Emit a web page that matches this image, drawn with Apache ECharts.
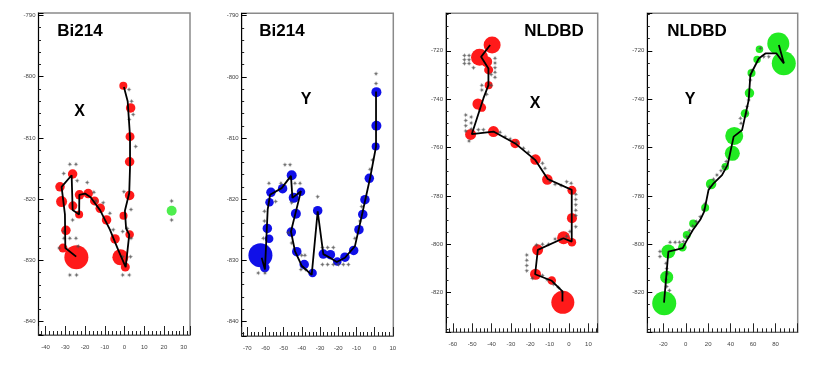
<!DOCTYPE html>
<html lang="en">
<head>
  <meta charset="UTF-8">
  <title>Bi214 / NLDBD tracks</title>
  <script src="https://cdn.jsdelivr.net/npm/echarts@6/dist/echarts.min.js"></script>
  <style>
    html, body { margin: 0; padding: 0; background: #fff; }
    #chart { width: 830px; height: 369px; }
  </style>
</head>
<body>
  <div id="chart"></div>
  <script>
    // [x, y, amplitude] of each hit; amplitude read as marker diameter
    const bi214XHits = [
      [-0.6, -801.5, 8], [3.1, -805.1, 9.5], [2.8, -809.8, 9], [2.6, -813.9, 9.5],
      [2.6, -819.4, 9.5], [-0.5, -822.7, 8], [2.6, -825.8, 8.5], [-2.1, -829.5, 16],
      [0.4, -831.1, 9], [-4.8, -826.5, 9.5], [-9.1, -823.4, 9.5], [-12.3, -821.5, 9.5],
      [-15.2, -820.3, 9], [-18.4, -819.1, 9.5], [-22.8, -819.3, 9.5], [-23, -822.5, 8],
      [-26.2, -821.1, 9], [-26.3, -815.9, 9.5], [-32.7, -818.0, 9.5], [-31.9, -820.4, 11],
      [-29.7, -825.1, 9.5], [-31.2, -828, 9], [-24.4, -829.5, 24]
    ];
    const bi214XTrack = [
      [-0.3, -801.7], [1.6, -804.0], [2.8, -809.8], [2.8, -814.7], [2.4, -819.0],
      [0.2, -821.9], [0.8, -824.8], [2.4, -825.8], [0.6, -831.1], [-3.2, -828.3],
      [-7.4, -825.0], [-12.4, -821.8], [-17.2, -819.7], [-20.0, -819.1], [-22.9, -819.3],
      [-23.0, -822.5], [-26.3, -821.8], [-26.8, -816.1], [-31.9, -818.0], [-30.2, -822.5],
      [-30.0, -828.0], [-24.5, -829.4]
    ];
    const bi214XStars = [
      [2.3, -802.1], [3.6, -804.0], [2.4, -807.0], [4.4, -806.2], [5.7, -811.4],
      [-0.3, -818.8], [3.3, -821.7], [1.4, -824.8], [-0.9, -825.3], [3.3, -826.4],
      [-0.9, -829.4], [3.1, -829.4], [-0.9, -832.4], [2.4, -832.4],
      [-27.7, -814.3], [-24.6, -814.3], [-30.8, -815.8], [-24.0, -817.0], [-18.9, -817.3],
      [-15.5, -818.9], [-10.8, -820.6], [-7.4, -822.3], [-5.7, -825.0], [-14.5, -820.3],
      [-26.3, -823.4], [-30.7, -825.3], [-30.7, -826.4], [-27.7, -826.4], [-24.6, -826.4],
      [-33.1, -828.0], [-23.5, -827.7], [-27.7, -832.4], [-24.3, -832.4]
    ];
    const bi214XOther = [[23.9, -821.9, 10]];
    const bi214XOtherStars = [[23.9, -820.3], [23.9, -823.4]];

    const bi214YHits = [
      [1.0, -802.5, 10], [1.0, -808.0, 10], [0.6, -811.4, 8], [-2.9, -816.6, 9.5],
      [-5.3, -820.1, 9.5], [-6.5, -822.5, 9.5], [-8.6, -825.0, 9.5], [-11.5, -828.4, 9.5],
      [-16.3, -829.5, 9.5], [-20.5, -830.2, 8.5], [-24.3, -829.1, 9.5], [-28.2, -829.0, 9.5],
      [-31.3, -821.9, 9.5], [-34.1, -832.1, 8.5], [-38.7, -830.7, 9.5], [-42.8, -828.6, 9.5],
      [-45.8, -825.4, 9.5], [-43.3, -822.4, 10], [-44.5, -819.8, 10], [-40.5, -818.8, 8.5],
      [-45.6, -816.1, 10], [-50.6, -818.3, 9.5], [-57, -818.9, 9.5], [-57.8, -820.5, 8.5],
      [-59.0, -824.8, 9.5], [-58.0, -826.5, 8.5], [-62.8, -829.2, 24], [-60.4, -831.2, 9.5]
    ];
    const bi214YTrack = [
      [0.8, -802.4], [0.8, -811.4], [-2.5, -816.6], [-7.1, -822.8], [-10.8, -827.7],
      [-16.3, -829.6], [-20.8, -830.3], [-24.5, -829.6], [-28.2, -829.0], [-31.3, -822.0],
      [-34.6, -832.4], [-40.1, -830.9], [-43.8, -828.5], [-46.0, -825.3], [-40.5, -818.7],
      [-45.2, -819.8], [-46.0, -816.2], [-51.1, -818.2], [-57.5, -819.3], [-58.8, -821.7],
      [-60.3, -831.5], [-62.1, -829.6]
    ];
    const bi214YStars = [
      [0.8, -799.5], [0.8, -801.1], [-1.2, -813.6], [-2.5, -815.1], [-4.9, -819.8],
      [-7.1, -821.2], [-8.0, -823.6], [-10.8, -826.4], [-14.4, -830.7], [-17.2, -830.7],
      [-19.9, -830.7], [-22.7, -830.7], [-25.8, -830.7], [-28.7, -830.7], [-22.7, -827.9],
      [-25.8, -827.9], [-28.7, -827.9], [-31.3, -819.6], [-37.9, -831.5], [-40.5, -831.5],
      [-40.1, -829.2], [-38.3, -829.2], [-49.3, -814.4], [-46.5, -814.4], [-51.5, -817.4],
      [-43.8, -817.4], [-41.0, -817.4], [-58.1, -817.4], [-54.4, -820.4], [-60.6, -822.0],
      [-60.6, -823.6], [-61.2, -826.4], [-64.0, -832.1], [-60.3, -832.1], [-47.4, -825.5],
      [-45.6, -820.6], [-45.6, -827.2]
    ];

    const nldbdXHits = [
      [-39.7, -717.6, 17], [-46.2, -722.7, 17], [-42.5, -724.5, 11], [-41.5, -727.9, 9],
      [-41.5, -734.2, 8], [-47, -742, 11], [-45, -743.5, 8.5], [-50.8, -754.6, 11],
      [-39, -753.4, 11], [-27.8, -758.3, 9.5], [-17.3, -765, 10.5], [-11.2, -773.2, 10.5],
      [1.5, -777.7, 9], [1.5, -789.2, 10], [-2.8, -797.3, 13], [1.5, -799.2, 8.5],
      [-16.2, -802.3, 11], [-17.3, -812.4, 11], [-8.9, -815, 8.5], [-3.2, -824, 23]
    ];
    const nldbdXTrack = [
      [-40.7, -717.6], [-45.4, -722.5], [-41.6, -727.3], [-41.6, -734.2], [-44.2, -739.7],
      [-50.2, -754.5], [-39.0, -753.4], [-27.8, -758.3], [-17.5, -765.1], [-11.0, -773.0],
      [1.4, -777.5], [1.4, -798.9], [-2.9, -797.5], [-16.1, -802.3], [-17.5, -812.4],
      [-8.9, -815.1], [-3.4, -819.5], [-3.4, -823.7]
    ];
    const nldbdXStars = [
      [-54.0, -722.0], [-54.0, -723.7], [-54.0, -725.3], [-51.6, -722.0], [-51.6, -723.7],
      [-51.6, -725.3], [-49.3, -727.0], [-38.2, -723.1], [-38.2, -725.1], [-38.2, -727.0],
      [-38.2, -728.9], [-38.2, -730.9], [-40.2, -729.8], [-45.0, -734.2], [-45.0, -736.2],
      [-42.5, -738.0], [-40.2, -734.2], [-53.3, -746.5], [-53.3, -748.8], [-53.3, -751.0],
      [-53.3, -753.2], [-50.5, -747.4], [-50.5, -749.9], [-50.5, -752.3], [-51.6, -757.3],
      [-46.8, -752.7], [-44.2, -752.7], [-35.6, -753.7], [-33.0, -755.5], [-30.4, -756.5],
      [-27.0, -757.8], [-23.5, -760.3], [-21.0, -762.0], [-18.9, -764.2], [-13.7, -766.5],
      [-12.4, -768.6], [-9.8, -773.8], [-7.2, -775.2], [-4.1, -775.7], [-1.2, -774.1],
      [1.1, -774.8], [3.5, -779.3], [3.5, -781.5], [3.5, -783.7], [3.5, -785.9],
      [3.5, -788.1], [3.5, -792.8], [0.5, -794.7], [-7.2, -797.8], [-4.1, -797.8],
      [-1.2, -796.7], [-10.6, -800.0], [-13.7, -800.0], [-16.8, -800.3], [-21.8, -804.4],
      [-21.8, -806.6], [-21.8, -808.8], [-21.8, -811.0], [-18.9, -814.0], [-13.7, -812.9],
      [-11.3, -814.7], [-7.9, -816.5], [-5.5, -817.9], [-3.4, -819.8]
    ];

    const nldbdYHits = [
      [82.5, -717, 22], [87.4, -725.2, 24], [65.7, -719.4, 7.5], [63.6, -723.6, 7.5],
      [58.6, -729.2, 8], [56.8, -737.5, 9.5], [52.8, -745.9, 8.5], [43.2, -755.2, 18],
      [41.5, -762.4, 15], [35.2, -767.9, 7.5], [22.6, -775.1, 10.5], [17.3, -784.9, 8],
      [6.6, -791.4, 8], [0.9, -796.2, 8], [-3.0, -801.2, 8.5], [-15.5, -803.0, 14],
      [-17.0, -813.6, 13], [-19.2, -824.4, 24]
    ];
    const nldbdYTrack = [
      [-19.4, -824.1], [-15.5, -803.0], [-2.7, -801.6], [0.3, -798.9], [6.3, -794.1],
      [12.9, -789.9], [16.4, -786.5], [20.3, -777.5], [24.8, -774.8], [32.3, -771.4],
      [37.3, -767.2], [42.7, -755.5], [50.2, -752.8], [56.1, -740.4], [57.6, -730.0],
      [65.1, -723.2], [71.0, -721.1], [80.9, -721.1], [87.5, -725.2], [83.0, -717.6]
    ];
    const nldbdYStars = [
      [66.6, -719.0], [69.6, -722.5], [74.0, -722.5], [59.1, -728.0], [57.6, -730.0],
      [57.6, -732.1], [56.1, -740.4], [54.6, -743.1], [54.0, -745.9], [48.7, -747.9],
      [49.3, -750.0], [36.1, -765.8], [33.7, -767.9], [31.4, -769.6], [27.8, -771.4],
      [24.8, -773.1], [21.2, -776.2], [17.3, -783.1], [15.8, -785.8], [12.9, -788.6],
      [9.3, -790.6], [6.3, -792.4], [3.3, -794.3], [0.9, -796.8], [-2.1, -798.9],
      [-5.6, -799.2], [-9.5, -799.2], [-14.0, -799.2], [-23.0, -803.0], [-23.0, -805.1],
      [-17.6, -807.8], [-17.0, -810.0], [-16.4, -812.2], [-17.6, -814.7], [-17.0, -817.5],
      [-14.6, -819.1]
    ];

    // layout of the four pads
    const pads = [
      { grid: { left: 38.5, top: 13, width: 151.5, height: 322 },
        x: [-43.6, 33.2, 8, 10, 5], y: [-842.2, -789.6, 5, 10, 5],
        title: ['Bi214', 80, 31], label: ['X', 79.5, 112],
        hits: bi214XHits, track: bi214XTrack, stars: bi214XStars, color: '#ff1a1a' },
      { grid: { left: 241.7, top: 13.3, width: 151.6, height: 322.7 },
        x: [-73.1, 10.3, 8, 10, 5], y: [-842.4, -789.6, 5, 10, 5],
        title: ['Bi214', 282, 31], label: ['Y', 306, 100],
        hits: bi214YHits, track: bi214YTrack, stars: bi214YStars, color: '#1010e8' },
      { grid: { left: 446, top: 13.3, width: 151.7, height: 319 },
        x: [-63.5, 14.8, 8, 10, 5], y: [-836.4, -704.5, 7, 20, 4],
        title: ['NLDBD', 554, 31], label: ['X', 535, 104],
        hits: nldbdXHits, track: nldbdXTrack, stars: nldbdXStars, color: '#ff1a1a' },
      { grid: { left: 647.3, top: 13.3, width: 150.4, height: 319 },
        x: [-34.3, 99.8, 7, 20, 5], y: [-836.4, -704.5, 7, 20, 4],
        title: ['NLDBD', 697, 31], label: ['Y', 690, 100],
        hits: nldbdYHits, track: nldbdYTrack, stars: nldbdYStars, color: '#22ea22' }
    ];

    const starSymbol = 'path://M0,-10L2,-3L7,-7L3,-2L10,0L3,2L7,7L2,3L0,10L-2,3L-7,7L-3,2L-10,0L-3,-2L-7,-7L-2,-3Z';
    const labelFont = { fontSize: 6, color: '#444', fontFamily: 'Liberation Sans' };

    function majorOnly(step) {
      return v => (Math.abs(v / step - Math.round(v / step)) < 1e-6 ? String(Math.round(v)) : '');
    }

    const grid = [], xAxis = [], yAxis = [], series = [], graphic = [];
    pads.forEach((p, i) => {
      grid.push(Object.assign({ show: true, borderColor: '#8a8a8a', borderWidth: 1.5, backgroundColor: 'transparent' }, p.grid));
      xAxis.push({
        gridIndex: i, type: 'value', min: p.x[0], max: p.x[1], splitNumber: p.x[2],
        axisLine: { onZero: false, lineStyle: { color: '#666', width: 1 } },
        axisTick: { inside: true, length: 9, lineStyle: { color: '#222', width: 1 } },
        minorTick: { show: true, splitNumber: p.x[4], length: 4, lineStyle: { color: '#222', width: 1 } },
        axisLabel: Object.assign({ margin: 9, formatter: majorOnly(p.x[3]) }, labelFont),
        splitLine: { show: false }
      });
      yAxis.push({
        gridIndex: i, type: 'value', min: p.y[0], max: p.y[1], splitNumber: p.y[2],
        axisLine: { onZero: false, lineStyle: { color: '#000', width: 1 } },
        axisTick: { inside: true, length: 5, lineStyle: { color: '#000', width: 1 } },
        minorTick: { show: true, splitNumber: p.y[4], length: 2.5, lineStyle: { color: '#222', width: 1 } },
        axisLabel: Object.assign({ margin: 3, formatter: majorOnly(p.y[3]) }, labelFont),
        splitLine: { show: false }
      });
      series.push({
        type: 'scatter', xAxisIndex: i, yAxisIndex: i, data: p.hits,
        symbolSize: v => v[2], itemStyle: { color: p.color, opacity: 1 }, z: 2
      });
      series.push({
        type: 'scatter', xAxisIndex: i, yAxisIndex: i, data: p.stars,
        symbol: starSymbol, symbolSize: 5, itemStyle: { color: '#4a4a4a' }, z: 3
      });
      series.push({
        type: 'line', xAxisIndex: i, yAxisIndex: i, data: p.track,
        showSymbol: false, symbol: 'none', lineStyle: { color: '#000', width: 1.8 }, z: 4
      });
      graphic.push({ type: 'text', x: p.title[1], y: p.title[2],
        style: { text: p.title[0], font: 'bold 17px "Liberation Sans"', fill: '#000', align: 'center', verticalAlign: 'middle' } });
      graphic.push({ type: 'text', x: p.label[1], y: p.label[2],
        style: { text: p.label[0], font: 'bold 16px "Liberation Sans"', fill: '#000', align: 'center', verticalAlign: 'middle' } });
    });

    // the lone green hit beside the Bi214 X track
    series.push({
      type: 'scatter', xAxisIndex: 0, yAxisIndex: 0, data: bi214XOther,
      symbolSize: v => v[2], itemStyle: { color: '#22ea22' }, z: 2
    });
    series.push({
      type: 'scatter', xAxisIndex: 0, yAxisIndex: 0, data: bi214XOtherStars,
      symbol: starSymbol, symbolSize: 5, itemStyle: { color: '#4a4a4a' }, z: 3
    });

    const myChart = echarts.init(document.getElementById('chart'));
    myChart.setOption({
      animation: false,
      backgroundColor: '#fff',
      grid, xAxis, yAxis, series, graphic
    });
  </script>
</body>
</html>
